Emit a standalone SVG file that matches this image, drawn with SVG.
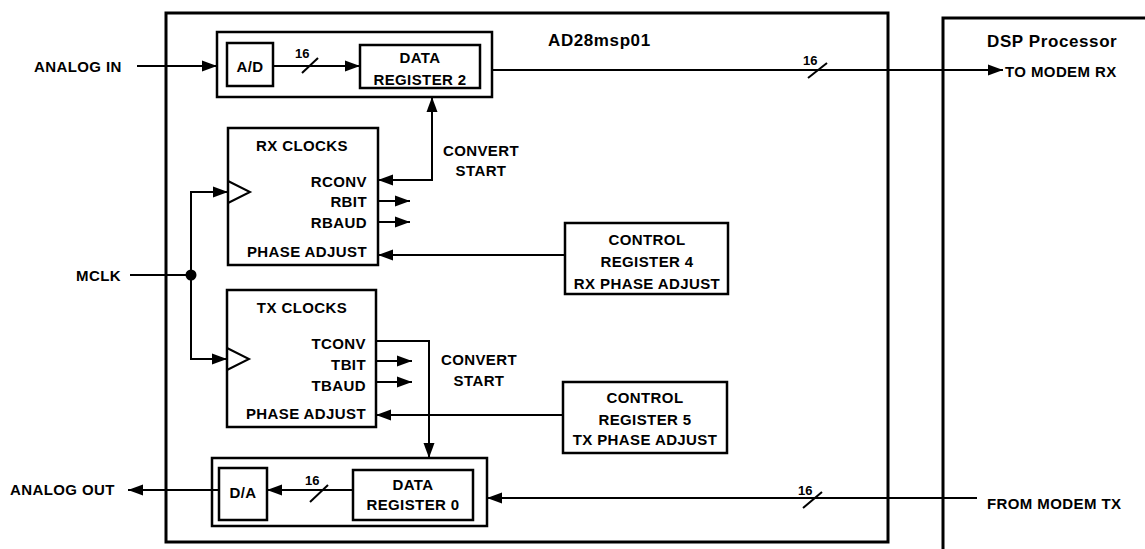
<svg xmlns="http://www.w3.org/2000/svg" width="1145" height="549" viewBox="0 0 1145 549">
<style>
  text { font-family: "Liberation Sans", Arial, sans-serif; font-weight: bold; fill: #000; }
  .t { font-size: 15px; letter-spacing: 0.4px; }
  .big { font-size: 17px; letter-spacing: 0.6px; }
  .n { font-size: 13px; }
  .m { text-anchor: middle; }
  .e { text-anchor: end; }
  .box { fill: #fff; stroke: #000; stroke-width: 2.5; }
  .frame { fill: none; stroke: #000; stroke-width: 3; }
  .w { fill: none; stroke: #000; stroke-width: 2; }
</style>
<defs>
  <marker id="ah" markerUnits="userSpaceOnUse" markerWidth="16" markerHeight="12" refX="15" refY="6" orient="auto">
    <path d="M0,0.5 L15,6 L0,11.5 Z" fill="#000"/>
  </marker>
</defs>
<rect width="1145" height="549" fill="#fff"/>

<g id="chip">
  <rect class="frame" x="166" y="13" width="722" height="529"/>
  <text class="big" x="548" y="46">AD28msp01</text>
</g>
<g id="dsp">
  <path class="frame" d="M1150,18 H943 V555"/>
  <text class="big" x="987" y="47">DSP Processor</text>
</g>

<g id="adc-block">
  <rect class="box" x="217" y="32" width="275" height="65"/>
</g>
<g id="ad">
  <rect class="box" x="227" y="43" width="46" height="43"/>
  <text class="t m" x="250" y="72">A/D</text>
</g>
<g id="dr2">
  <rect class="box" x="360" y="45" width="120" height="43"/>
  <text class="t m" x="420" y="63">DATA</text>
  <text class="t m" x="420" y="85">REGISTER 2</text>
</g>

<g id="rxclk">
  <rect class="box" x="228" y="128" width="150" height="137"/>
  <path class="w" d="M228,181 L250,192 L228,203" stroke-width="2.5" fill="#fff"/>
  <text class="t m" x="302" y="151">RX CLOCKS</text>
  <text class="t e" x="367" y="187">RCONV</text>
  <text class="t e" x="367" y="207">RBIT</text>
  <text class="t e" x="367" y="228">RBAUD</text>
  <text class="t e" x="367" y="257">PHASE ADJUST</text>
</g>

<g id="txclk">
  <rect class="box" x="227" y="290" width="149" height="137"/>
  <path class="w" d="M227,348 L249,359 L227,370" stroke-width="2.5" fill="#fff"/>
  <text class="t m" x="302" y="313">TX CLOCKS</text>
  <text class="t e" x="366" y="349">TCONV</text>
  <text class="t e" x="366" y="370">TBIT</text>
  <text class="t e" x="366" y="391">TBAUD</text>
  <text class="t e" x="366" y="419">PHASE ADJUST</text>
</g>

<g id="cr4">
  <rect class="box" x="565" y="223" width="163" height="71"/>
  <text class="t m" x="647" y="245">CONTROL</text>
  <text class="t m" x="647" y="267">REGISTER 4</text>
  <text class="t m" x="647" y="289">RX PHASE ADJUST</text>
</g>

<g id="cr5">
  <rect class="box" x="563" y="382" width="164" height="71"/>
  <text class="t m" x="645" y="403">CONTROL</text>
  <text class="t m" x="645" y="425">REGISTER 5</text>
  <text class="t m" x="645" y="445">TX PHASE ADJUST</text>
</g>

<g id="dac-block">
  <rect class="box" x="212" y="458" width="275" height="68"/>
</g>
<g id="da">
  <rect class="box" x="219" y="468" width="48" height="52"/>
  <text class="t m" x="243" y="498">D/A</text>
</g>
<g id="dr0">
  <rect class="box" x="353" y="470" width="120" height="50"/>
  <text class="t m" x="413" y="490">DATA</text>
  <text class="t m" x="413" y="510">REGISTER 0</text>
</g>

<g id="labels">
  <text class="t" x="34" y="72">ANALOG IN</text>
  <text class="t" x="76" y="281">MCLK</text>
  <text class="t" x="10" y="495">ANALOG OUT</text>
  <text class="t" x="1005" y="77">TO MODEM RX</text>
  <text class="t" x="987" y="509">FROM MODEM TX</text>
  <text class="t m" x="481" y="156">CONVERT</text>
  <text class="t m" x="481" y="176">START</text>
  <text class="t m" x="479" y="365">CONVERT</text>
  <text class="t m" x="479" y="386">START</text>
  <text class="n" x="295" y="58">16</text>
  <text class="n" x="803" y="65">16</text>
  <text class="n" x="305" y="485">16</text>
  <text class="n" x="798" y="495">16</text>
</g>

<g id="connectors">
  <line class="w" x1="137" y1="66" x2="217" y2="66" marker-end="url(#ah)"/>
  <line class="w" x1="273" y1="66" x2="360" y2="66" marker-end="url(#ah)"/>
  <line class="w" x1="302" y1="73" x2="318" y2="58"/>
  <line class="w" x1="492" y1="70" x2="1003" y2="70" marker-end="url(#ah)"/>
  <line class="w" x1="808" y1="78" x2="827" y2="63"/>
  <polyline class="w" points="378,180 432,180 432,97" marker-end="url(#ah)"/>
  <line class="w" x1="432" y1="180" x2="378" y2="180" marker-end="url(#ah)"/>
  <line class="w" x1="378" y1="201" x2="410" y2="201" marker-end="url(#ah)"/>
  <line class="w" x1="378" y1="222" x2="410" y2="222" marker-end="url(#ah)"/>
  <line class="w" x1="565" y1="255" x2="378" y2="255" marker-end="url(#ah)"/>
  <line class="w" x1="130" y1="275" x2="191" y2="275"/>
  <circle cx="191" cy="275" r="5.5" fill="#000"/>
  <polyline class="w" points="191,275 191,192 228,192" marker-end="url(#ah)"/>
  <polyline class="w" points="191,275 191,359 227,359" marker-end="url(#ah)"/>
  <polyline class="w" points="376,341 429,341 429,458" marker-end="url(#ah)"/>
  <line class="w" x1="376" y1="361" x2="412" y2="361" marker-end="url(#ah)"/>
  <line class="w" x1="376" y1="382" x2="412" y2="382" marker-end="url(#ah)"/>
  <line class="w" x1="563" y1="415" x2="376" y2="415" marker-end="url(#ah)"/>
  <line class="w" x1="219" y1="490" x2="128" y2="490" marker-end="url(#ah)"/>
  <line class="w" x1="353" y1="490" x2="267" y2="490" marker-end="url(#ah)"/>
  <line class="w" x1="310" y1="502" x2="328" y2="485"/>
  <line class="w" x1="977" y1="498" x2="487" y2="498" marker-end="url(#ah)"/>
  <line class="w" x1="803" y1="508" x2="822" y2="492"/>
</g>
</svg>
